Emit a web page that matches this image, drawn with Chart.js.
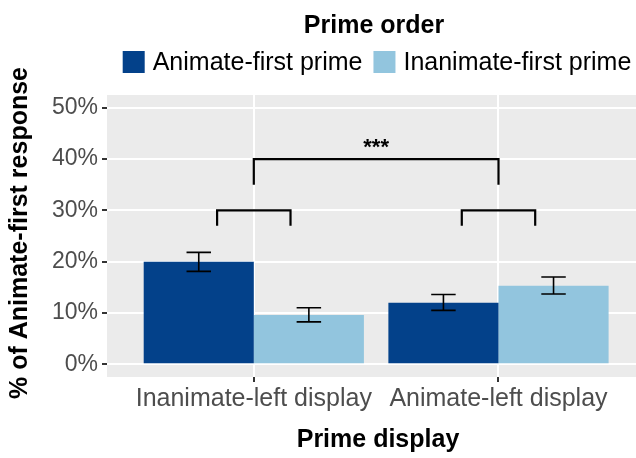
<!DOCTYPE html>
<html>
<head>
<meta charset="utf-8">
<script src="https://cdn.jsdelivr.net/npm/chart.js@4.4.0/dist/chart.umd.min.js"></script>
<style>
body { margin: 0; background: #fff; }
#wrap { width: 636px; height: 458px; }
</style>
</head>
<body>
<div id="wrap"><canvas id="grafico" width="636" height="458"></canvas></div>
<script>
// data
const categories = ['Inanimate-left display', 'Animate-left display'];
const positions = [0, 1];
const seriesNames = ['Animate-first prime', 'Inanimate-first prime'];
const animateFirst = [20.0, 12.0];
const inanimateFirst = [9.6, 15.3];
const animateFirstLow = [18.1, 10.5];
const animateFirstHigh = [21.8, 13.6];
const inanimateFirstLow = [8.25, 13.7];
const inanimateFirstHigh = [11.0, 17.0];
const yMajor = [0, 10, 20, 30, 40, 50];
const yMinor = [5, 15, 25, 35, 45];

// significance brackets: left x, right x, top y, leg end y
const bracketLeft = [-0.15, 0.85, 0];
const bracketRight = [0.15, 1.15, 1];
const bracketTop = [30, 30, 40];
const bracketBottom = [27, 27, 35];
const starLabel = '***';
const starX = 0.5;
const starY = 43.9;

const colors = ['#03418A', '#92C5DE'];
const FONT = "'Liberation Sans', Arial, sans-serif";

const ctx = document.getElementById('grafico').getContext('2d');

function toPoints(values) {
    return positions.map((p, i) => ({ x: p, y: values[i] }));
}

const decor = {
    id: 'decor',
    beforeDraw(chart) {
        const { ctx, chartArea } = chart;
        ctx.save();
        ctx.fillStyle = '#EBEBEB';
        ctx.fillRect(chartArea.left, chartArea.top, chartArea.right - chartArea.left, chartArea.bottom - chartArea.top);
        ctx.restore();
    },
    afterDatasetsDraw(chart) {
        const { ctx } = chart;
        const xs = chart.scales.x;
        const ys = chart.scales.y;
        const capHalf = xs.getPixelForValue(0.05) - xs.getPixelForValue(0);

        // error bars
        const bounds = [[animateFirstLow, animateFirstHigh], [inanimateFirstLow, inanimateFirstHigh]];
        ctx.save();
        ctx.strokeStyle = '#000';
        ctx.lineWidth = 1.6;
        bounds.forEach((b, d) => {
            chart.getDatasetMeta(d).data.forEach((bar, i) => {
                const lo = ys.getPixelForValue(b[0][i]);
                const hi = ys.getPixelForValue(b[1][i]);
                ctx.beginPath();
                ctx.moveTo(bar.x - capHalf, hi); ctx.lineTo(bar.x + capHalf, hi);
                ctx.moveTo(bar.x, hi); ctx.lineTo(bar.x, lo);
                ctx.moveTo(bar.x - capHalf, lo); ctx.lineTo(bar.x + capHalf, lo);
                ctx.stroke();
            });
        });

        // brackets
        ctx.lineWidth = 2.2;
        bracketLeft.forEach((l, i) => {
            const x1 = xs.getPixelForValue(l);
            const x2 = xs.getPixelForValue(bracketRight[i]);
            const yt = ys.getPixelForValue(bracketTop[i]);
            const yb = ys.getPixelForValue(bracketBottom[i]);
            ctx.beginPath();
            ctx.moveTo(x1, yb); ctx.lineTo(x1, yt); ctx.lineTo(x2, yt); ctx.lineTo(x2, yb);
            ctx.stroke();
        });

        ctx.fillStyle = '#000';
        ctx.font = 'bold 22px ' + FONT;
        ctx.textAlign = 'center';
        ctx.textBaseline = 'middle';
        ctx.fillText(starLabel, xs.getPixelForValue(starX), ys.getPixelForValue(starY) + 9);
        ctx.restore();
    },
    afterDraw(chart) {
        const { ctx, chartArea } = chart;
        ctx.save();
        ctx.fillStyle = '#000';
        ctx.textBaseline = 'middle';

        // legend
        ctx.textAlign = 'center';
        ctx.font = 'bold 25px ' + FONT;
        ctx.fillText('Prime order', 374, 26);

        ctx.font = '25px ' + FONT;
        const box = 22, gapText = 8, gapItem = 11;
        const widths = seriesNames.map(n => ctx.measureText(n).width);
        const total = widths.reduce((a, w) => a + box + gapText + w, 0) + gapItem;
        let x = 377 - total / 2;
        ctx.textAlign = 'left';
        seriesNames.forEach((n, i) => {
            ctx.fillStyle = colors[i];
            ctx.fillRect(x, 51, box, box);
            x += box + gapText;
            ctx.fillStyle = '#000';
            ctx.fillText(n, x, 63);
            x += widths[i] + gapItem;
        });

        // axis titles
        ctx.textAlign = 'center';
        ctx.font = 'bold 25px ' + FONT;
        ctx.fillText('Prime display', 378, 440);
        ctx.translate(20, (chartArea.top + chartArea.bottom) / 2 - 3);
        ctx.rotate(-Math.PI / 2);
        ctx.fillText('% of Animate-first response', 0, 0);
        ctx.restore();
    }
};

const grafico = new Chart(ctx, {
    type: 'bar',
    data: {
        datasets: [
            { label: seriesNames[0], data: toPoints(animateFirst), backgroundColor: colors[0], borderWidth: 0 },
            { label: seriesNames[1], data: toPoints(inanimateFirst), backgroundColor: colors[1], borderWidth: 0 }
        ]
    },
    options: {
        responsive: false,
        animation: false,
        categoryPercentage: 0.9,
        barPercentage: 1.0,
        layout: { padding: { top: 95, left: 0, right: 0, bottom: 0 } },
        plugins: {
            legend: { display: false },
            tooltip: { enabled: false }
        },
        scales: {
            x: {
                type: 'linear',
                offset: false,
                min: -0.6,
                max: 1.562,
                afterBuildTicks: s => { s.ticks = positions.map(v => ({ value: v })); },
                afterFit: s => { s.height = 81; },
                border: { display: false },
                grid: { offset: false, color: '#fff', lineWidth: 2, tickColor: '#333', tickLength: 5 },
                ticks: {
                    callback: v => categories[v],
                    autoSkip: false,
                    maxRotation: 0,
                    padding: 2,
                    color: '#4D4D4D',
                    font: { family: FONT, size: 25 }
                }
            },
            y: {
                min: -2.5,
                max: 52.5,
                afterBuildTicks: s => {
                    s.ticks = yMajor.concat(yMinor).sort((a, b) => a - b).map(v => ({ value: v }));
                },
                afterFit: s => { s.width = 107; },
                border: { display: false },
                grid: {
                    color: '#fff',
                    lineWidth: c => yMajor.includes(c.tick.value) ? 2 : 1,
                    tickColor: c => yMajor.includes(c.tick.value) ? '#333' : 'rgba(0,0,0,0)',
                    tickLength: 5
                },
                ticks: {
                    callback: v => yMajor.includes(v) ? v + '%' : '',
                    padding: 4,
                    color: '#4D4D4D',
                    font: { family: FONT, size: 23 }
                }
            }
        }
    },
    plugins: [decor]
});
</script>
</body>
</html>
